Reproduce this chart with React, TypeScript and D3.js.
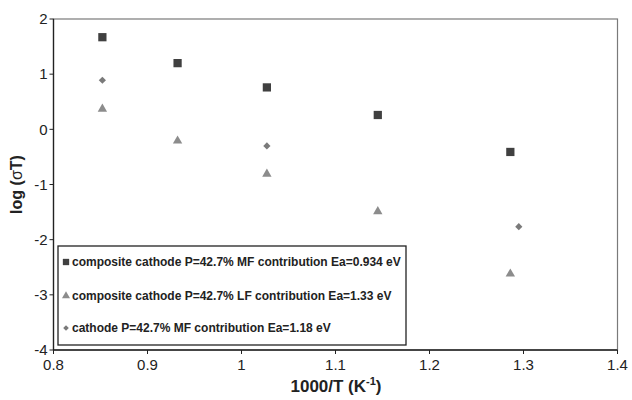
import React from "react";
import * as d3 from "d3";

const xTicks = [0.8, 0.9, 1, 1.1, 1.2, 1.3, 1.4];
const yTicks = [2, 1, 0, -1, -2, -3, -4];

const mfComposite = [
  { x: 0.852, y: 1.67 },
  { x: 0.932, y: 1.2 },
  { x: 1.027, y: 0.76 },
  { x: 1.145, y: 0.26 },
  { x: 1.286, y: -0.41 },
];
const lfComposite = [
  { x: 0.852, y: 0.37 },
  { x: 0.932, y: -0.21 },
  { x: 1.027, y: -0.81 },
  { x: 1.145, y: -1.49 },
  { x: 1.286, y: -2.62 },
];
const mfCathode = [
  { x: 0.852, y: 0.89 },
  { x: 1.027, y: -0.3 },
  { x: 1.295, y: -1.765 },
];

const legendLabels = [
  "composite cathode P=42.7% MF contribution Ea=0.934 eV",
  "composite cathode P=42.7% LF contribution Ea=1.33 eV",
  "cathode P=42.7% MF contribution Ea=1.18 eV",
];

const W = 632;
const H = 400;
const left = 53.5;
const right = 617.5;
const top = 19;
const bottom = 350;

export default function App() {
  const x = d3.scaleLinear().domain([0.8, 1.4]).range([left, right]);
  const y = d3.scaleLinear().domain([-4, 2]).range([bottom, top]);
  const sq = d3.symbol().type(d3.symbolSquare).size(68);
  const tri = d3.symbol().type(d3.symbolTriangle).size(38);
  const dia = d3.symbol().type(d3.symbolSquare).size(26);
  const sqSmall = d3.symbol().type(d3.symbolSquare).size(40);
  const triSmall = d3.symbol().type(d3.symbolTriangle).size(28);
  const diaSmall = d3.symbol().type(d3.symbolSquare).size(16);
  const font = "Liberation Sans, Arial, sans-serif";

  const legendShapes = [
    { p: sqSmall(), c: "#404040", r: 0 },
    { p: triSmall(), c: "#8c8c8c", r: 0 },
    { p: diaSmall(), c: "#7a7a7a", r: 45 },
  ];
  const legendY = [262, 296, 328];

  return (
    <svg
      width={W}
      height={H}
      style={{ position: "absolute", left: 0, top: 0, background: "#fff" }}
      fontFamily={font}
    >
      <rect x={0} y={0} width={W} height={H} fill="#fff" />
      <rect
        x={left}
        y={top}
        width={right - left}
        height={bottom - top}
        fill="none"
        stroke="#7a7a7a"
        strokeWidth={1.2}
      />
      <line x1={left} x2={left} y1={top} y2={bottom} stroke="#222" strokeWidth={1.3} />
      <line x1={left} x2={right} y1={bottom} y2={bottom} stroke="#222" strokeWidth={1.3} />
      {yTicks.map((t) => (
        <g key={"y" + t}>
          <line x1={left - 4} x2={left} y1={y(t)} y2={y(t)} stroke="#222" />
          <text
            x={left - 6}
            y={y(t)}
            dy="0.35em"
            textAnchor="end"
            fontSize={15}
            fill="#222"
          >
            {t}
          </text>
        </g>
      ))}
      {xTicks.map((t) => (
        <g key={"x" + t}>
          <line x1={x(t)} x2={x(t)} y1={bottom} y2={bottom + 4} stroke="#222" />
          <text
            x={x(t)}
            y={bottom + 20}
            textAnchor="middle"
            fontSize={15}
            fill="#222"
          >
            {t}
          </text>
        </g>
      ))}
      <text
        transform={`translate(22, ${(top + bottom) / 2}) rotate(-90)`}
        textAnchor="middle"
        fontSize={16}
        fontWeight="bold"
        fill="#222"
      >
        log (<tspan fontWeight="normal">σ</tspan>T)
      </text>
      <text
        x={336}
        y={392}
        textAnchor="middle"
        fontSize={17}
        fontWeight="bold"
        fill="#222"
      >
        1000/T (K<tspan dy={-7} fontSize={11}>-1</tspan>
        <tspan dy={7}>)</tspan>
      </text>
      {mfComposite.map((d, i) => (
        <path key={"s" + i} d={sq()!} transform={`translate(${x(d.x)},${y(d.y)})`} fill="#404040" />
      ))}
      {lfComposite.map((d, i) => (
        <path key={"t" + i} d={tri()!} transform={`translate(${x(d.x)},${y(d.y)})`} fill="#8c8c8c" />
      ))}
      {mfCathode.map((d, i) => (
        <path
          key={"d" + i}
          d={dia()!}
          transform={`translate(${x(d.x)},${y(d.y)}) rotate(45)`}
          fill="#7a7a7a"
        />
      ))}
      <rect x={58} y={246} width={348} height={99} fill="#fff" stroke="#222" strokeWidth={1.3} />
      {legendLabels.map((l, i) => (
        <g key={"l" + i}>
          <path
            d={legendShapes[i].p!}
            transform={`translate(66,${legendY[i]}) rotate(${legendShapes[i].r})`}
            fill={legendShapes[i].c}
          />
          <text x={72} y={legendY[i]} dy="0.35em" fontSize={12} fontWeight="bold" fill="#222">
            {l}
          </text>
        </g>
      ))}
    </svg>
  );
}
